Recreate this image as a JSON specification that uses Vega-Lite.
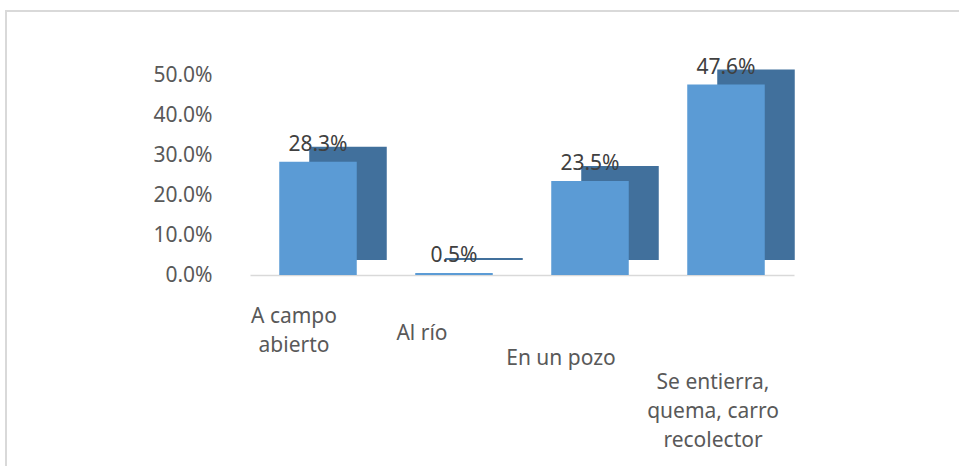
{
  "$schema": "https://vega.github.io/schema/vega-lite/v6.json",
  "autosize": "none",
  "padding": {"left": 6, "top": 11, "right": 0, "bottom": 0},
  "width": 960,
  "height": 470,
  "background": "white",
  "config": {
    "view": {"stroke": "#d9d9d9", "strokeWidth": 2},
    "font": "Noto Sans"
  },
  "data": {
    "values": [
      {"destino": "A campo abierto", "porcentaje": 0.283},
      {"destino": "Al río", "porcentaje": 0.005},
      {"destino": "En un pozo", "porcentaje": 0.235},
      {"destino": "Se entierra, quema, carro recolector", "porcentaje": 0.476}
    ]
  },
  "encoding": {
    "x": {
      "field": "destino",
      "type": "nominal",
      "sort": null,
      "scale": {"type": "band", "range": [244, 788], "paddingInner": 0, "paddingOuter": 0},
      "axis": {
        "title": null,
        "orient": "bottom",
        "offset": -206,
        "ticks": false,
        "domain": true,
        "domainColor": "#d9d9d9",
        "domainWidth": 1.5,
        "labelAngle": 0,
        "labelFont": "Noto Sans",
        "labelFontSize": 21,
        "labelColor": "#595959",
        "labelLineHeight": 29,
        "labelBaseline": "top",
        "labelOverlap": false,
        "labelLimit": 300,
        "labelExpr": "datum.value == 'A campo abierto' ? ['A campo', 'abierto'] : datum.value == 'Se entierra, quema, carro recolector' ? ['Se entierra,', 'quema, carro', 'recolector'] : datum.label",
        "labelPadding": {
          "condition": [
            {"test": "datum.value == 'Al río'", "value": 47},
            {"test": "datum.value == 'En un pozo'", "value": 72},
            {"test": "datum.value == 'Se entierra, quema, carro recolector'", "value": 96}
          ],
          "value": 30
        },
        "labelOffset": {
          "condition": [
            {"test": "datum.value == 'Al río'", "value": -32},
            {"test": "datum.value == 'En un pozo'", "value": -29},
            {"test": "datum.value == 'Se entierra, quema, carro recolector'", "value": -13}
          ],
          "value": -24
        }
      }
    },
    "y": {
      "field": "porcentaje",
      "type": "quantitative",
      "scale": {"domain": [-0.515, 0.66], "nice": false, "zero": false},
      "axis": {
        "title": null,
        "orient": "left",
        "offset": -208,
        "values": [0, 0.1, 0.2, 0.3, 0.4, 0.5],
        "format": ".1%",
        "grid": false,
        "ticks": false,
        "domain": false,
        "labelPadding": 2,
        "labelFont": "Noto Sans",
        "labelFontSize": 21,
        "labelColor": "#595959"
      }
    }
  },
  "layer": [
    {
      "mark": {"type": "bar", "color": "#41709c", "width": {"band": 0.57}, "xOffset": 30, "x2Offset": 30, "yOffset": -15, "y2Offset": -15},
      "encoding": {
        "y": {"field": "porcentaje", "type": "quantitative"},
        "y2": {"datum": 0}
      }
    },
    {
      "mark": {"type": "bar", "color": "#5b9bd5", "width": {"band": 0.57}},
      "encoding": {
        "y": {"field": "porcentaje", "type": "quantitative"},
        "y2": {"datum": 0}
      }
    },
    {
      "mark": {"type": "text", "baseline": "middle", "dy": -17, "font": "Noto Sans", "fontSize": 21, "color": "#404040"},
      "encoding": {
        "text": {"field": "porcentaje", "type": "quantitative", "format": ".1%"}
      }
    }
  ]
}
